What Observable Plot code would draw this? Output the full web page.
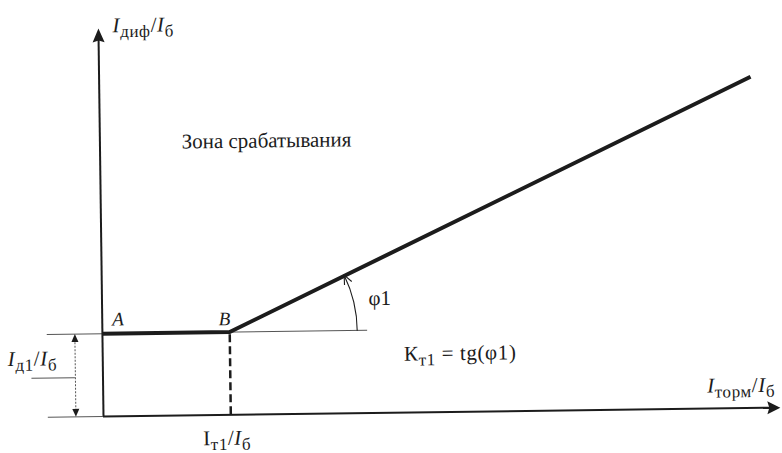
<!DOCTYPE html>
<html>
<head>
<meta charset="utf-8">
<script src="https://cdn.jsdelivr.net/npm/d3@7"></script>
<script src="https://cdn.jsdelivr.net/npm/@observablehq/plot@0.6"></script>
<style>
  html, body { margin: 0; padding: 0; background: #fff; }
  #chart svg { display: block; overflow: visible; transform: rotate(-0.75deg); transform-origin: 103px 416px; }
  #chart svg text { font-family: 'Liberation Serif', 'Times New Roman', serif; }
</style>
</head>
<body>
<div id="chart"></div>
<script>
// Operating characteristic of a biased differential protection (per-unit currents).
// Break points of the characteristic: A (start), B (knee), end of the biased slope.
const brakeCurrent = [0, 0.6, 3.07];   // I_торм / I_б
const diffCurrent  = [0.3, 0.3, 1.2];  // I_диф / I_б
const pointNames   = ["A", "B"];

// Axis extents (arrow tips)
const axisTip = { x: 3.19, y: 1.406 };

// Text (markup: *..* italic, _{..} subscript)
const yTitle    = "*I*_{диф}/*I*_{б}";
const xTitle    = "*I*_{торм}/*I*_{б}";
const zoneLabel = "Зона срабатывания";
const angleName = "φ1";
const slopeNote = "К_{т1} = tg(φ1)";
const kneeLabel = "I_{т1}/*I*_{б}";
const pickLabel = "*I*_{д1}/*I*_{б}";

const ink = "#1c1c1c";
const thin = "#555";
const Id1 = diffCurrent[0];
const It1 = brakeCurrent[1];
const curve = brakeCurrent.map((x, i) => ({ x, y: diffCurrent[i] }));

// Arrowhead symbols (tip at the anchor point)
const headUp    = { draw(c) { c.moveTo(0, 0); c.lineTo(6, 14); c.lineTo(0, 12); c.lineTo(-6, 14); c.closePath(); } };
const headRight = { draw(c) { c.moveTo(0, 0); c.lineTo(-13, -6.5); c.lineTo(-11, 0); c.lineTo(-13, 6.5); c.closePath(); } };
const tinyUp    = { draw(c) { c.moveTo(0, 0); c.lineTo(3.5, 8); c.lineTo(-3.5, 8); c.closePath(); } };
const tinyDown  = { draw(c) { c.moveTo(0, 0); c.lineTo(3.5, -8); c.lineTo(-3.5, -8); c.closePath(); } };

const dimX = -0.13;   // dimension line for I_д1

// Angle φ1 arc between the horizontal through B and the biased slope
function angleArc(index, scales) {
  const { x, y } = scales;
  const cx = x(brakeCurrent[1]), cy = y(diffCurrent[1]);
  const ex = x(brakeCurrent[2]), ey = y(diffCurrent[2]);
  const a = Math.atan2(cy - ey, ex - cx);
  const r = 128;
  const x1 = cx + r * Math.cos(a), y1 = cy - r * Math.sin(a);
  const g = d3.create("svg:g").attr("fill", "none").attr("stroke", ink).attr("stroke-width", 1.1);
  g.append("path").attr("d", `M${cx + r},${cy + 1}A${r},${r} 0 0 0 ${x1},${y1}`);
  const dx = -Math.sin(a), dy = -Math.cos(a);   // travel direction at the tip
  const nx = -dy, ny = dx;
  const L = 9, W = 4;
  g.append("path").attr("d",
    `M${x1 - L * dx + W * nx},${y1 - L * dy + W * ny}L${x1},${y1}L${x1 - L * dx - W * nx},${y1 - L * dy - W * ny}`);
  return g.node();
}

const font = "'Liberation Serif', 'Times New Roman', serif";
const T = { fill: ink, fontSize: 21, fontFamily: font, lineAnchor: "bottom" };

const chart = Plot.plot({
  width: 782,
  height: 453,
  marginLeft: 103,
  marginRight: 0,
  marginTop: 24,
  marginBottom: 37,
  x: { domain: [0, 3.2], axis: null },
  y: { domain: [0, 1.42], axis: null },
  style: { background: "#fff", fontFamily: font, overflow: "visible" },
  marks: [
    // thin construction lines
    Plot.ruleY([0], { x1: -0.26, x2: 0, stroke: thin, strokeWidth: 1 }),
    Plot.ruleY([Id1], { x1: -0.26, x2: 1.25, stroke: thin, strokeWidth: 1 }),
    Plot.ruleY([0.142], { x1: -0.335, x2: dimX, stroke: thin, strokeWidth: 1 }),
    Plot.ruleX([dimX], { y1: 0.02, y2: Id1 - 0.02, stroke: thin, strokeWidth: 1, strokeDasharray: "2,1.5" }),
    Plot.dot([[dimX, Id1]], { x: d => d[0], y: d => d[1], symbol: tinyUp, fill: ink, stroke: "none" }),
    Plot.dot([[dimX, 0]], { x: d => d[0], y: d => d[1], symbol: tinyDown, fill: ink, stroke: "none" }),
    // axes
    Plot.ruleY([0], { x1: 0, x2: axisTip.x - 0.03, stroke: ink, strokeWidth: 2 }),
    Plot.ruleX([0], { y1: 0, y2: axisTip.y - 0.03, stroke: ink, strokeWidth: 2 }),
    Plot.dot([[axisTip.x, 0]], { x: d => d[0], y: d => d[1], symbol: headRight, fill: ink, stroke: "none" }),
    Plot.dot([[0, axisTip.y]], { x: d => d[0], y: d => d[1], symbol: headUp, fill: ink, stroke: "none" }),
    // knee projection
    Plot.ruleX([It1], { y1: 0, y2: Id1, stroke: ink, strokeWidth: 2.5, strokeDasharray: "8,4" }),
    // characteristic
    Plot.line(curve, { x: "x", y: "y", stroke: ink, strokeWidth: 4, strokeLinejoin: "round", strokeLinecap: "butt" }),
    angleArc,
    // labels
    Plot.text([yTitle], { ...T, x: 0, y: axisTip.y, dx: 14, dy: 4, textAnchor: "start" }),
    Plot.text([zoneLabel], { ...T, x: 0.385, y: 0.967, textAnchor: "start" }),
    Plot.text([`*${pointNames[0]}*`], { ...T, fontSize: 19, x: brakeCurrent[0], y: diffCurrent[0], dx: 10, dy: -8, textAnchor: "start" }),
    Plot.text([`*${pointNames[1]}*`], { ...T, fontSize: 19, x: brakeCurrent[1], y: diffCurrent[1], dx: -11, dy: -7, textAnchor: "start" }),
    Plot.text([angleName], { ...T, x: It1, y: Id1, dx: 139, dy: -25, textAnchor: "start" }),
    Plot.text([slopeNote], { ...T, x: 1.42, y: 0.188, textAnchor: "start" }),
    Plot.text([xTitle], { ...T, x: axisTip.x, y: 0, dx: -5, dy: -16, textAnchor: "end" }),
    Plot.text([kneeLabel], { ...T, x: It1, y: 0, dx: -4, dy: 30, textAnchor: "middle" }),
    Plot.text([pickLabel], { ...T, x: 0, y: Id1, dx: -95, dy: 31, textAnchor: "start" })
  ]
});

// Turn the light markup in labels into italic / subscript tspans
const subSize = 17, subDrop = 5;
d3.select(chart).selectAll("text").each(function () {
  const s = this.textContent;
  if (!/[*_]/.test(s)) return;
  this.textContent = "";
  this.setAttribute("letter-spacing", "0.6");
  let shift = 0;
  for (const m of s.matchAll(/\*([^*]+)\*|_\{([^}]+)\}|([^*_]+)/g)) {
    const t = d3.select(this).append("tspan");
    if (m[2] != null) {
      t.text(m[2]).attr("font-size", subSize).attr("dy", subDrop - shift);
      shift = subDrop;
    } else {
      t.text(m[1] != null ? m[1] : m[3]);
      if (shift) t.attr("dy", -shift);
      shift = 0;
      if (m[1] != null) t.attr("font-style", "italic");
    }
  }
});

document.getElementById("chart").appendChild(chart);
</script>
</body>
</html>
